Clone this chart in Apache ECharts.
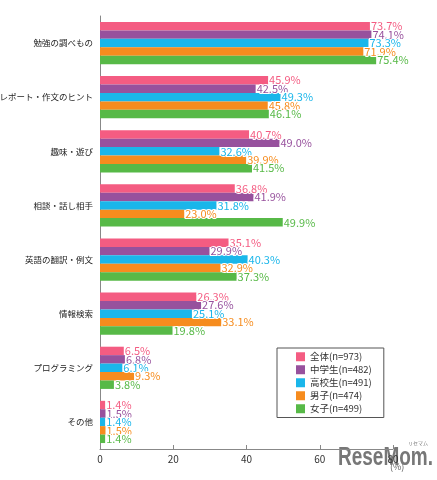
<!DOCTYPE html>
<html><head><meta charset="utf-8">
<script src="https://cdn.jsdelivr.net/npm/echarts@6/dist/echarts.min.js"></script>
<style>html,body{margin:0;padding:0;background:#fff}#c{width:437px;height:480px}</style>
</head><body><div id="c"></div>
<script>
const categories = ['勉強の調べもの','レポート・作文のヒント','趣味・遊び','相談・話し相手','英語の翻訳・例文','情報検索','プログラミング','その他'];
const seriesNames = ['全体(n=973)','中学生(n=482)','高校生(n=491)','男子(n=474)','女子(n=499)'];
const zentai = [73.7,45.9,40.7,36.8,35.1,26.3,6.5,1.4];
const chugaku = [74.1,42.5,49.0,41.9,29.9,27.6,6.8,1.5];
const koko = [73.3,49.3,32.6,31.8,40.3,25.1,6.1,1.4];
const danshi = [71.9,45.8,39.9,23.0,32.9,33.1,9.3,1.5];
const joshi = [75.4,46.1,41.5,49.9,37.3,19.8,3.8,1.4];
const xTicks = [0,20,40,60,80];
const allData = [zentai,chugaku,koko,danshi,joshi];
const colors = ['#f45c82','#97519d','#1ab6ea','#f68c1e','#57b947'];
const font = '"Noto Sans CJK JP","Noto Sans",sans-serif';
const chart = echarts.init(document.getElementById('c'));
chart.setOption({
  animation:false,
  textStyle:{fontFamily:font},
  grid:{left:100,right:44,top:16,bottom:31,containLabel:false,outerBoundsMode:'none'},
  legend:{
    orient:'vertical',left:277,top:348,
    itemWidth:9,itemHeight:9,itemGap:3.5,
    borderColor:'#555',borderWidth:1,padding:[4,12,4,19],
    textStyle:{fontSize:9.5,color:'#333',fontFamily:font},
    icon:'rect',
    data:seriesNames
  },
  xAxis:{type:'value',min:0,max:80,interval:20,
    axisLine:{show:true,lineStyle:{color:'#888'}},
    axisTick:{show:true,inside:true,length:4,lineStyle:{color:'#888'}},
    splitLine:{show:false},
    axisLabel:{color:'#333',fontSize:10,margin:5,formatter:v=>xTicks.includes(v)?String(v):''}
  },
  yAxis:{type:'category',inverse:true,data:categories,
    axisLine:{show:true,lineStyle:{color:'#888'}},
    axisTick:{show:false},
    axisLabel:{color:'#222',fontSize:8.5,margin:7}
  },
  series:allData.map((d,i)=>({
    name:seriesNames[i],type:'bar',data:d,
    itemStyle:{color:colors[i]},
    barGap:'0%',barCategoryGap:'22%',
    label:{show:true,position:'right',distance:1,fontSize:11,color:colors[i],
      textBorderColor:'#fff',textBorderWidth:2,
      formatter:p=>p.value.toFixed(1)+'%'}
  })),
  graphic:[
    {type:'text',left:390,top:462,style:{text:'(%)',fontSize:9,fill:'#666',fontFamily:font}},
    {type:'text',x:338,y:446,scaleX:0.76,style:{text:'ReseMom.',fontSize:25,fontWeight:'bold',fill:'#777',fontFamily:'"Liberation Sans",sans-serif'}},
    {type:'text',left:408,top:441,style:{text:'リセマム',fontSize:5,fill:'#777',fontFamily:font}}
  ]
});
</script></body></html>
